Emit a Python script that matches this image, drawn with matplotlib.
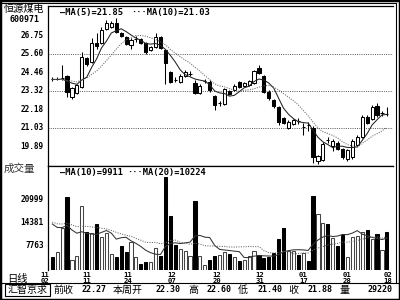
import matplotlib
matplotlib.use('Agg')
import matplotlib.pyplot as plt
import numpy as np
import pandas as pd
from matplotlib.lines import Line2D
from matplotlib.patches import Rectangle

# ---------------- data ----------------
opens = [24.08, 24.05, 24.10, 24.24, 22.95, 23.21, 23.56, 25.35, 25.10, 26.30,
         26.28, 27.14, 27.26, 27.51, 26.89, 26.65, 26.15, 26.52, 26.52, 26.28,
         25.84, 26.03, 26.65, 25.84, 24.49, 24.00, 23.87, 24.24, 24.36, 23.81,
         23.19, 23.93, 23.87, 23.01, 22.55, 22.51, 23.31, 23.38, 23.87, 23.62,
         23.68, 23.81, 24.73, 24.24, 23.25, 22.76, 22.33, 21.65, 21.03, 21.28,
         21.46, 21.09, 21.22, 21.03, 18.99, 19.06, 20.30, 19.92, 20.10, 19.73,
         19.12, 19.24, 19.98, 20.47, 21.71, 21.59, 22.39, 21.95, 21.90]
closes = [24.05, 24.07, 24.12, 23.25, 23.50, 23.68, 25.41, 24.98, 26.28, 26.10,
          27.08, 27.51, 27.51, 26.96, 26.71, 26.22, 26.46, 26.55, 26.28, 25.72,
          26.03, 26.65, 25.97, 25.04, 23.87, 23.97, 24.24, 24.49, 24.38, 23.19,
          23.62, 23.94, 23.38, 22.45, 22.58, 23.44, 23.13, 23.62, 23.56, 23.81,
          23.93, 24.55, 24.42, 23.25, 22.88, 22.39, 21.40, 21.34, 21.40, 21.52,
          21.45, 21.10, 21.20, 19.24, 19.30, 20.04, 20.27, 20.23, 19.73, 19.24,
          19.67, 20.23, 20.47, 21.71, 21.34, 22.33, 21.83, 21.96, 21.88]
highs = [24.17, 24.15, 24.92, 24.30, 23.56, 23.75, 25.72, 25.41, 26.59, 26.90,
         27.26, 27.70, 27.63, 27.82, 26.96, 26.71, 26.59, 26.71, 26.59, 26.34,
         26.09, 26.89, 26.71, 25.90, 24.55, 24.17, 24.36, 24.61, 24.55, 23.99,
         23.75, 24.05, 23.99, 23.07, 22.70, 23.50, 23.38, 23.75, 23.93, 23.87,
         23.99, 24.61, 24.92, 24.30, 23.38, 22.82, 22.39, 21.71, 21.52, 21.59,
         21.65, 21.34, 21.40, 21.15, 19.36, 20.17, 20.47, 20.35, 20.23, 19.80,
         19.73, 20.35, 20.60, 21.83, 21.83, 22.45, 22.57, 22.08, 22.30]
lows = [23.93, 23.98, 24.00, 22.94, 22.82, 23.13, 23.50, 24.86, 25.04, 25.90,
        26.22, 27.08, 27.20, 26.89, 26.65, 26.15, 25.90, 26.34, 26.22, 25.60,
        25.78, 25.97, 25.90, 23.75, 23.81, 23.87, 23.81, 24.17, 24.24, 23.13,
        23.13, 23.81, 23.25, 22.14, 22.39, 22.45, 23.07, 23.31, 23.50, 23.56,
        23.62, 23.75, 24.36, 23.19, 22.76, 22.26, 21.22, 21.28, 20.97, 21.22,
        21.28, 20.60, 20.85, 18.87, 18.81, 19.00, 20.10, 19.61, 19.67, 19.12,
        19.00, 19.12, 19.92, 20.41, 21.28, 21.52, 21.71, 21.77, 21.77]
volumes = [4576, 6024, 12887, 21952, 3620, 4778, 19258, 11729, 11526, 14046,
           10281, 11526, 5358, 4489, 7761, 6024, 8920, 4489, 2462, 3041,
           3128, 7182, 4778, 27657, 16362, 7964, 6806, 6313, 4778, 20793,
           4778, 2172, 3620, 4778, 5068, 6024, 5358, 4489, 3417, 3620,
           4778, 6226, 5068, 4199, 4576, 5734, 9702, 12974, 6226, 6226,
           5068, 5734, 3417, 22154, 16855, 14422, 14046, 9904, 7761, 10860,
           4489, 10281, 10570, 11816, 12308, 9702, 11150, 6516, 11642]
# estimated sessions before the first visible bar (only feed the moving averages)
prior_closes = [23.90, 24.10, 24.00, 23.80, 24.20, 24.10, 24.00, 23.90, 24.10]
prior_volumes = [16000, 14000, 17500, 13000, 15500, 16500, 12500, 15000, 17000, 14500,
                 16000, 13500, 15500, 17000, 14000, 15000, 16500, 13500, 15000]

price_ticks = [26.75, 25.60, 24.46, 23.32, 22.18, 21.03, 19.89]
price_grid = [25.60, 23.32, 21.03]
volume_ticks = [20999, 14381, 7763]
date_labels = ['11\n02', '11\n11', '11\n24', '12\n07', '12\n20', '12\n31', '01\n17', '01\n28', '02\n18']
date_positions = [-1.5, 6.9, 15.4, 24.3, 33.5, 42.2, 51.0, 59.9, 68.2]
stock_name = '恒源煤电'
stock_code = '600971'
price_legend = ['MA(5)=21.85', 'MA(10)=21.03']
volume_legend = ['MA(10)=9911', 'MA(20)=10224']
status_labels = ['前收', '本周开', '高', '低', '收', '量']
status_values = ['22.27', '22.30', '22.60', '21.40', '21.88', '29220']

# ---------------- derived series ----------------
n = len(closes)
x = np.arange(n)
cs = pd.Series(prior_closes + closes)
ma5 = cs.rolling(5).mean().values[len(prior_closes):]
ma10 = cs.rolling(10).mean().values[len(prior_closes):]
vs = pd.Series(prior_volumes + volumes)
vma10 = vs.rolling(10).mean().values[len(prior_volumes):]
vma20 = vs.rolling(20).mean().values[len(prior_volumes):]
up = np.array(closes) >= np.array(opens)

# ---------------- figure ----------------
W, H = 400, 300
fig = plt.figure(figsize=(4, 3), dpi=100)
fig.patch.set_facecolor('white')

def fx(px):
    return px / W

def fy(py):
    return 1 - py / H

CJK = ['Noto Sans CJK SC', 'DejaVu Sans']
MONO = 'DejaVu Sans Mono'

L, R = 48, 393
T, MID, B = 6, 165.5, 270
axp = fig.add_axes([fx(L), fy(MID), fx(R - L), (MID - T) / H])
axv = fig.add_axes([fx(L), fy(B), fx(R - L), (B - MID) / H])

xmin, xmax = -0.87, 69.25
for a in (axp, axv):
    a.set_xlim(xmin, xmax)
    a.set_xticks([])
    a.set_yticks([])
    for s in a.spines.values():
        s.set_color('black')
        s.set_linewidth(0.9)
axv.spines['bottom'].set_visible(False)
axv.spines['right'].set_visible(False)
axp.spines['right'].set_visible(False)

axp.set_ylim(18.715, 28.56)
axv.set_ylim(724, 30990)

# grid lines
for g in price_grid:
    axp.axhline(g, color='#555555', lw=0.7, ls=(0, (1, 1.3)), zorder=1)

# candles
bw = 0.64
for i in range(n):
    o, c, h, l = opens[i], closes[i], highs[i], lows[i]
    lo, hi = min(o, c), max(o, c)
    axp.vlines(i, l, h, color='black', lw=0.75, zorder=2)
    body = max(hi - lo, 0.015)
    axp.bar(i, body, bottom=lo, width=bw,
            color='white' if up[i] else 'black', edgecolor='black', lw=0.75, zorder=3)

axp.plot(x, ma5, color='#222222', lw=0.75, zorder=4)
axp.plot(x, ma10, color='#666666', lw=0.75, ls=(0, (1, 1.3)), zorder=4)

# volume
axv.bar(x, volumes, width=bw, color=['white' if u else 'black' for u in up],
        edgecolor=['#444444' if u else 'black' for u in up], lw=0.75, zorder=2)
axv.plot(x, vma10, color='#333333', lw=0.75, zorder=4)
axv.plot(x, vma20, color='#666666', lw=0.75, ls=(0, (1, 1.3)), zorder=4)

# y labels
for t in price_ticks:
    axp.text(-0.012, t, f'{t:.2f}', transform=axp.get_yaxis_transform(), ha='right', va='center',
             family=MONO, fontweight='bold', fontsize=5.6)
for t in volume_ticks:
    axv.text(-0.012, t, f'{t}', transform=axv.get_yaxis_transform(), ha='right', va='center',
             family=MONO, fontweight='bold', fontsize=5.6)

# date labels
for pos, lab in zip(date_positions, date_labels):
    axv.text(pos, -0.015, lab, transform=axv.get_xaxis_transform(), ha='center', va='top',
             family=MONO, fontweight='bold', fontsize=5.2, linespacing=1.05, clip_on=False)

# titles / legends
fig.text(fx(3.5), fy(9), stock_name, family=CJK, fontsize=7.3, ha='left', va='center')
fig.text(fx(40), fy(20), stock_code, family=MONO, fontweight='bold', fontsize=6, ha='right', va='center')
fig.text(fx(4), fy(169), '成交量', family=CJK, fontsize=7.6, ha='left', va='center', color='#333333')
fig.text(fx(7), fy(279), '日线', family=CJK, fontsize=7.4, ha='left', va='center')

fig.text(fx(60), fy(12.5), '—' + price_legend[0], family=MONO, fontweight='bold', fontsize=6.3, ha='left', va='center')
fig.text(fx(131), fy(12.5), '···' + price_legend[1], family=MONO, fontweight='bold', fontsize=6.3, ha='left', va='center')
fig.text(fx(60), fy(172.5), '—' + volume_legend[0], family=MONO, fontweight='bold', fontsize=6.3, ha='left', va='center')
fig.text(fx(127), fy(172.5), '···' + volume_legend[1], family=MONO, fontweight='bold', fontsize=6.3, ha='left', va='center')

# status bar
fig.add_artist(Line2D([fx(2), fx(398)], [fy(283), fy(283)], color='black', lw=0.8))
fig.add_artist(Rectangle((fx(5), fy(296)), fx(45), 12 / H, fill=False, edgecolor='black', lw=0.8))
fig.text(fx(27.5), fy(290), '汇智京求', family=CJK, fontsize=7.2, ha='center', va='center')
label_left = [53, 113, 188, 238, 288, 340]
value_right = [107, 180, 232, 282, 332, 393]
for lab, val, lx, vr in zip(status_labels, status_values, label_left, value_right):
    fig.text(fx(lx), fy(290), lab, family=CJK, fontsize=7.2, ha='left', va='center')
    fig.text(fx(vr), fy(290), val, family=MONO, fontweight='bold', fontsize=6, ha='right', va='center')

# outer frame
fig.add_artist(Rectangle((0, 0), 1, 1, fill=False, edgecolor='black', lw=2.5, transform=fig.transFigure))
fig.add_artist(Line2D([fx(396), fx(396)], [fy(3), fy(283)], color='black', lw=0.8))
fig.add_artist(Line2D([fx(2), fx(396)], [fy(3), fy(3)], color='black', lw=0.8))

fig.savefig('out.png', dpi=100, facecolor='white')
